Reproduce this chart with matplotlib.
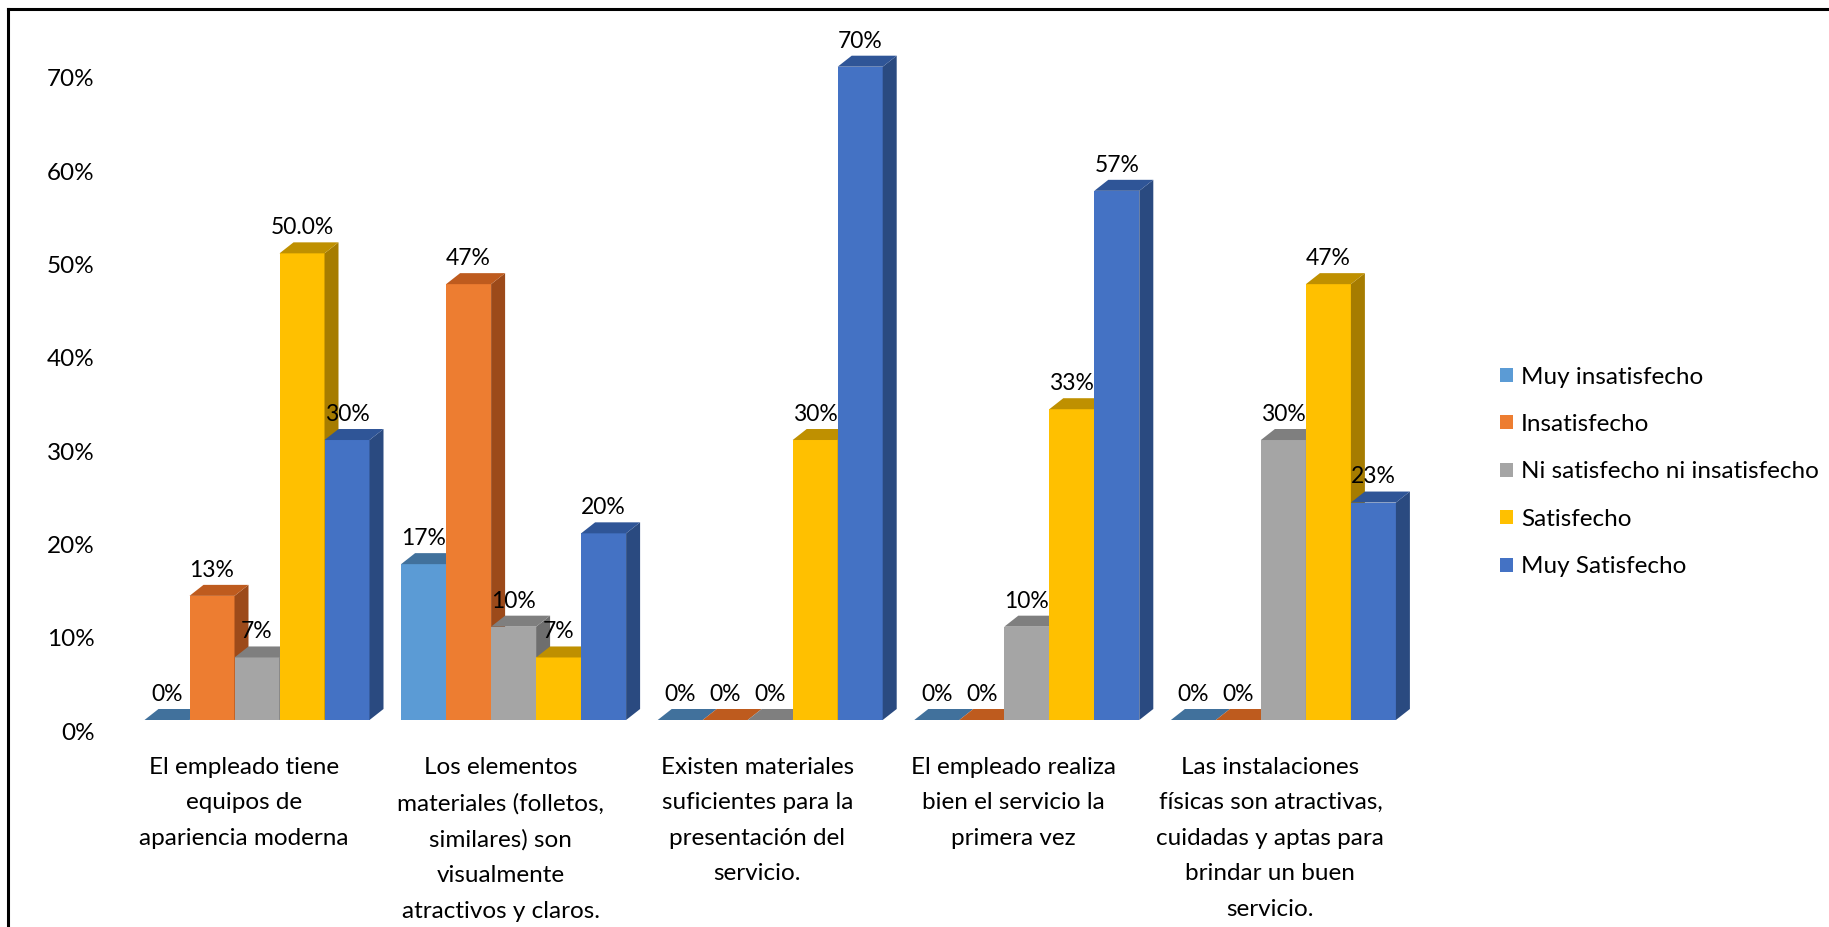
import matplotlib
matplotlib.use("Agg")
import matplotlib.pyplot as plt
from matplotlib.patches import Polygon, Patch
from matplotlib.lines import Line2D
from matplotlib.transforms import ScaledTranslation
import numpy as np

plt.rcParams['font.family'] = ['Lato', 'DejaVu Sans']

categories = [
    "El empleado tiene\nequipos de\napariencia moderna",
    "Los elementos\nmateriales (folletos,\nsimilares) son\nvisualmente\natractivos y claros.",
    "Existen materiales\nsuficientes para la\npresentación del\nservicio.",
    "El empleado realiza\nbien el servicio la\nprimera vez",
    "Las instalaciones\nfísicas son atractivas,\ncuidadas y aptas para\nbrindar un buen\nservicio.",
]
series = ["Muy insatisfecho", "Insatisfecho", "Ni satisfecho ni insatisfecho",
          "Satisfecho", "Muy Satisfecho"]
muy_insatisfecho = [0.0, 16.7, 0.0, 0.0, 0.0]
insatisfecho = [13.3, 46.7, 0.0, 0.0, 0.0]
ni_ni = [6.7, 10.0, 0.0, 10.0, 30.0]
satisfecho = [50.0, 6.7, 30.0, 33.3, 46.7]
muy_satisfecho = [30.0, 20.0, 70.0, 56.7, 23.3]
labels = [
    ["0%", "17%", "0%", "0%", "0%"],
    ["13%", "47%", "0%", "0%", "0%"],
    ["7%", "10%", "0%", "10%", "30%"],
    ["50.0%", "7%", "30%", "33%", "47%"],
    ["30%", "20%", "70%", "57%", "23%"],
]
yticks = [0, 10, 20, 30, 40, 50, 60, 70]
values = [muy_insatisfecho, insatisfecho, ni_ni, satisfecho, muy_satisfecho]

front_c = ["#5B9BD5", "#ED7D31", "#A5A5A5", "#FFC000", "#4472C4"]
top_c = ["#41719C", "#BE5B1E", "#7F7F7F", "#BF9000", "#2F5597"]
side_c = ["#3A6A96", "#9C4A1A", "#6E6E6E", "#A67C00", "#2A4A80"]

FS = 17.5
W, H = 1829, 927
fig = plt.figure(figsize=(W / 100, H / 100), dpi=100)

# layout in pixels
grp_px = 256.6
c0_px = 257.0
ax_left, ax_right = 110, 1420
base_px = 720
px_per_pct = 9.333
ax_top = 20
xlim = ((ax_left - c0_px) / grp_px, (ax_right - c0_px) / grp_px)
ylim = (0, (base_px - ax_top) / px_per_pct)
ax = fig.add_axes([ax_left / W, (H - base_px) / H, (ax_right - ax_left) / W,
                   (base_px - ax_top) / H])
ax.set_xlim(*xlim)
ax.set_ylim(*ylim)
for s in ax.spines.values():
    s.set_visible(False)

bw = 45.0 / grp_px
dx = 14.0 / grp_px
dy = 11.0 / px_per_pct
n = len(series)
x = np.arange(len(categories))

for g in range(len(categories)):
    for i in range(n):
        v = values[i][g]
        left = x[g] + (i - n / 2) * bw
        right = left + bw
        if v > 0:
            ax.bar(left, v, width=bw, align='edge', color=front_c[i],
                   edgecolor='none', zorder=2 + g * 10 + i)
            ax.add_patch(Polygon([(right, 0), (right + dx, dy), (right + dx, v + dy), (right, v)],
                                 closed=True, facecolor=side_c[i], edgecolor='none',
                                 zorder=2 + g * 10 + i))
        ax.add_patch(Polygon([(left, v), (right, v), (right + dx, v + dy), (left + dx, v + dy)],
                             closed=True, facecolor=top_c[i], edgecolor='none',
                             zorder=2 + g * 10 + i))
        ax.annotate(labels[i][g], (left + bw / 2, v + dy), xytext=(0, 3),
                    textcoords='offset points', ha='center', va='bottom',
                    fontsize=16.5, color='black', zorder=100, annotation_clip=False)

ax.set_yticks(yticks)
ax.set_yticklabels([f"{t}%" for t in yticks], fontsize=FS)
ax.tick_params(axis='y', length=0, pad=11)
off = ScaledTranslation(0, -11.0 / 100, fig.dpi_scale_trans)
for lab in ax.get_yticklabels():
    lab.set_transform(lab.get_transform() + off)

ax.set_xticks(x)
ax.set_xticklabels(categories, fontsize=FS, linespacing=1.85)
ax.tick_params(axis='x', length=0, pad=26.5)
xoff = ScaledTranslation(-13.0 / 100, 0, fig.dpi_scale_trans)
for lab in ax.get_xticklabels():
    lab.set_transform(lab.get_transform() + xoff)

handles = [Patch(facecolor=c, edgecolor='none') for c in front_c]
fig.legend(handles, series, loc='center left', bbox_to_anchor=(1500 / W, 1 - 472 / H),
           frameon=False, fontsize=FS, handlelength=0.52, handleheight=0.52,
           handletextpad=0.35, labelspacing=1.09, borderpad=0, borderaxespad=0)

# chart frame (left and top)
fig.add_artist(Line2D([8 / W, 8 / W], [0, 1 - 9 / H], transform=fig.transFigure,
                      color='black', linewidth=2.2))
fig.add_artist(Line2D([8 / W, 1], [1 - 9 / H, 1 - 9 / H], transform=fig.transFigure,
                      color='black', linewidth=2.2))

fig.savefig("out.png", dpi=100, facecolor='white')
